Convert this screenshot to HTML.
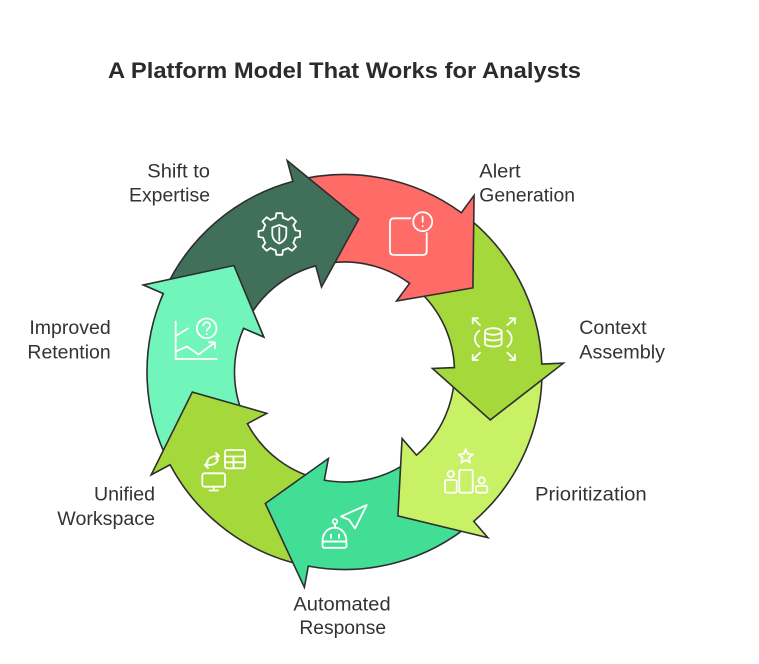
<!DOCTYPE html>
<html><head><meta charset="utf-8"><style>
html,body{margin:0;padding:0;background:#fff;}
svg{display:block;}
text{font-family:"Liberation Sans",Arial,sans-serif;fill:#333;}
</style></head><body>
<svg width="759" height="664" viewBox="0 0 759 664" xmlns="http://www.w3.org/2000/svg">
<defs>
<clipPath id="wedge"><polygon points="344.5,372 101.77,278.82 131.52,222.87 184.43,167.12"/></clipPath>
<path id="tooth" d="M-6.31,-15.24 A16.5,16.5 0 0 1 -3.71,-16.08 L-2.92,-20.8 L2.92,-20.8 L3.71,-16.08 A16.5,16.5 0 0 1 6.31,-15.24"/>
</defs>
<rect width="759" height="664" fill="#fff"/>
<g stroke="#2e2e2e" stroke-width="1.6" stroke-linejoin="miter">
<!-- Improved Retention -->
<path fill="#72F5BA" d="M169.33,463.23 A197.5,197.5 0 0 1 163.27,293.50 L143.54,284.95 L233.93,265.52 L263.75,337.02 L243.56,328.28 A110,110 0 0 0 246.94,422.81 Z"/>
<!-- Unified Workspace -->
<path fill="#A5D83A" d="M306.61,565.83 A197.5,197.5 0 0 1 170.13,464.75 L151.15,474.85 L192.32,392.06 L266.81,413.33 L247.38,423.66 A110,110 0 0 0 323.40,479.96 Z"/>
<!-- Automated Response -->
<path fill="#43DE95" d="M472.42,522.47 A197.5,197.5 0 0 1 308.31,566.15 L304.37,587.29 L265.30,503.49 L328.37,458.51 L324.34,480.14 A110,110 0 0 0 415.75,455.81 Z"/>
<!-- Prioritization -->
<path fill="#C8F166" d="M541.90,365.80 A197.5,197.5 0 0 1 473.73,521.35 L487.80,537.61 L397.93,515.90 L402.08,438.55 L416.48,455.18 A110,110 0 0 0 454.45,368.54 Z"/>
<!-- Context Assembly -->
<path fill="#A5D83A" d="M462.72,213.79 A197.5,197.5 0 0 1 541.84,364.07 L563.32,363.21 L490.32,419.94 L432.43,368.47 L454.41,367.59 A110,110 0 0 0 410.35,283.88 Z"/>
<!-- Alert Generation -->
<path fill="#FF6B66" d="M294.52,180.93 A197.5,197.5 0 0 1 461.34,212.78 L474.06,195.44 L472.90,287.88 L396.56,301.05 L409.58,283.32 A110,110 0 0 0 316.66,265.58 Z"/>
<!-- Shift to Expertise -->
<path fill="#41705A" d="M163.96,291.92 A197.5,197.5 0 0 1 292.85,181.37 L287.23,160.62 L358.78,219.17 L321.49,287.06 L315.73,265.83 A110,110 0 0 0 243.95,327.40 Z"/>
<!-- redraw Improved Retention head on top -->
<path clip-path="url(#wedge)" fill="#72F5BA" d="M169.33,463.23 A197.5,197.5 0 0 1 163.27,293.50 L143.54,284.95 L233.93,265.52 L263.75,337.02 L243.56,328.28 A110,110 0 0 0 246.94,422.81 Z"/>
</g>

<g fill="none" stroke="#fff" stroke-width="1.8" stroke-linecap="round" stroke-linejoin="round">
<!-- gear -->
<g transform="translate(279.3,234)">
<use href="#tooth"/>
<use href="#tooth" transform="rotate(45)"/>
<use href="#tooth" transform="rotate(90)"/>
<use href="#tooth" transform="rotate(135)"/>
<use href="#tooth" transform="rotate(180)"/>
<use href="#tooth" transform="rotate(225)"/>
<use href="#tooth" transform="rotate(270)"/>
<use href="#tooth" transform="rotate(315)"/>
<path d="M0,-9 L7,-6.5 L7,0 C7,5 3.5,8 0,9.5 C-3.5,8 -7,5 -7,0 L-7,-6.5 Z"/>
<path d="M0,-6 V6.5"/>
</g>
<!-- alert -->
<path d="M410.5,218.3 H394 Q390,218.3 390,222.3 V251 Q390,255 394,255 H422.7 Q426.7,255 426.7,251 V233"/>
<circle cx="422.7" cy="221.7" r="9.5"/>
<path d="M422.7,216.5 V222"/>
<path d="M422.7,226 V226.3"/>
<!-- database -->
<ellipse cx="493.3" cy="331.5" rx="8.3" ry="3.3"/>
<path d="M485,331.5 V343.5 C485,347.5 501.6,347.5 501.6,343.5 V331.5"/>
<path d="M485,337.5 C485,341.5 501.6,341.5 501.6,337.5"/>
<path d="M479.3,330.7 C473.5,335 473.5,342.5 479.3,346.7"/>
<path d="M507.3,330.7 C513.1,335 513.1,342.5 507.3,346.7"/>
<path d="M480,325 L472.7,318.3 M472.7,323.5 V318.3 H477.9"/>
<path d="M507.3,325 L515,318.3 M515,323.5 V318.3 H509.8"/>
<path d="M480,352.7 L472.7,360 M472.7,354.8 V360 H477.9"/>
<path d="M507.3,352.7 L515,360 M515,354.8 V360 H509.8"/>
<!-- prioritization -->
<polygon points="465.7,449.2 467.64,454.03 472.83,454.38 468.84,457.72 470.11,462.77 465.7,460 461.29,462.77 462.56,457.72 458.57,454.38 463.76,454.03"/>
<rect x="445" y="480" width="11.7" height="12.7" rx="1.5"/>
<circle cx="450.8" cy="474" r="3.2"/>
<rect x="459.3" y="470" width="13.4" height="22.7" rx="1.5"/>
<circle cx="481.7" cy="480.5" r="3.2"/>
<rect x="476" y="486" width="11.3" height="6.7" rx="1.5"/>
<!-- robot + send -->
<circle cx="335" cy="521.5" r="2.3"/>
<path d="M335,523.8 V527.7"/>
<path d="M322.5,541.5 C322.5,533 328,527.7 334.5,527.7 C341,527.7 346.5,533 346.5,541.5 Z"/>
<rect x="322.5" y="541.5" width="24" height="6.3" rx="2"/>
<path d="M331,534.5 V538 M339,534.5 V538"/>
<path d="M366.7,505 L341,516.5 L349,519.8 L355,528.5 Z"/>
<!-- chart -->
<path d="M175.7,321.7 V359 H216.7"/>
<path d="M175.7,336 L188,328.5"/>
<path d="M175.7,351.5 L187,346.5 L198.5,354.5 L215,342.5"/>
<path d="M209,342.3 H215 V348.3"/>
<circle cx="206.7" cy="328.3" r="9.8"/>
<path d="M203.3,325.6 C203.3,321.2 210.2,321.2 210.2,325.6 C210.2,328.3 206.7,328.3 206.7,331"/>
<path d="M206.7,334 V334.3"/>
<!-- unified -->
<rect x="225" y="450" width="20" height="18.3" rx="2"/>
<path d="M225,456.5 H245 M225,462.3 H245 M233.5,456.5 V468.3"/>
<rect x="202.3" y="473.3" width="22.7" height="13.4" rx="2"/>
<path d="M213.7,486.7 V490.5 M209.5,490.5 H218"/>
<path d="M207,462 Q209,455.5 219,456"/>
<path d="M216,453 L219,456 L216,459"/>
<path d="M218,459.5 Q216,466 205,465"/>
<path d="M208,462 L205,465 L208,468"/>
</g>

<text x="108" y="78" font-size="22" font-weight="bold" textLength="473" lengthAdjust="spacingAndGlyphs" style="fill:#2b2b2b">A Platform Model That Works for Analysts</text>

<g font-size="19">
<text x="210" y="177.3" text-anchor="end" textLength="62.7" lengthAdjust="spacingAndGlyphs">Shift to</text>
<text x="210" y="201.5" text-anchor="end" textLength="81" lengthAdjust="spacingAndGlyphs">Expertise</text>
<text x="479.3" y="177.3" textLength="41.3" lengthAdjust="spacingAndGlyphs">Alert</text>
<text x="479.3" y="201.5" textLength="95.7" lengthAdjust="spacingAndGlyphs">Generation</text>
<text x="579.3" y="334" textLength="67.3" lengthAdjust="spacingAndGlyphs">Context</text>
<text x="579.3" y="358.3" textLength="85.7" lengthAdjust="spacingAndGlyphs">Assembly</text>
<text x="535" y="500.7" textLength="111.7" lengthAdjust="spacingAndGlyphs">Prioritization</text>
<text x="342" y="610.7" text-anchor="middle" textLength="97.3" lengthAdjust="spacingAndGlyphs">Automated</text>
<text x="342.7" y="634" text-anchor="middle" textLength="86.7" lengthAdjust="spacingAndGlyphs">Response</text>
<text x="155" y="500.7" text-anchor="end" textLength="61" lengthAdjust="spacingAndGlyphs">Unified</text>
<text x="155" y="525" text-anchor="end" textLength="97.7" lengthAdjust="spacingAndGlyphs">Workspace</text>
<text x="110.7" y="334" text-anchor="end" textLength="81.3" lengthAdjust="spacingAndGlyphs">Improved</text>
<text x="110.7" y="358.3" text-anchor="end" textLength="83.3" lengthAdjust="spacingAndGlyphs">Retention</text>
</g>
</svg>
</body></html>
